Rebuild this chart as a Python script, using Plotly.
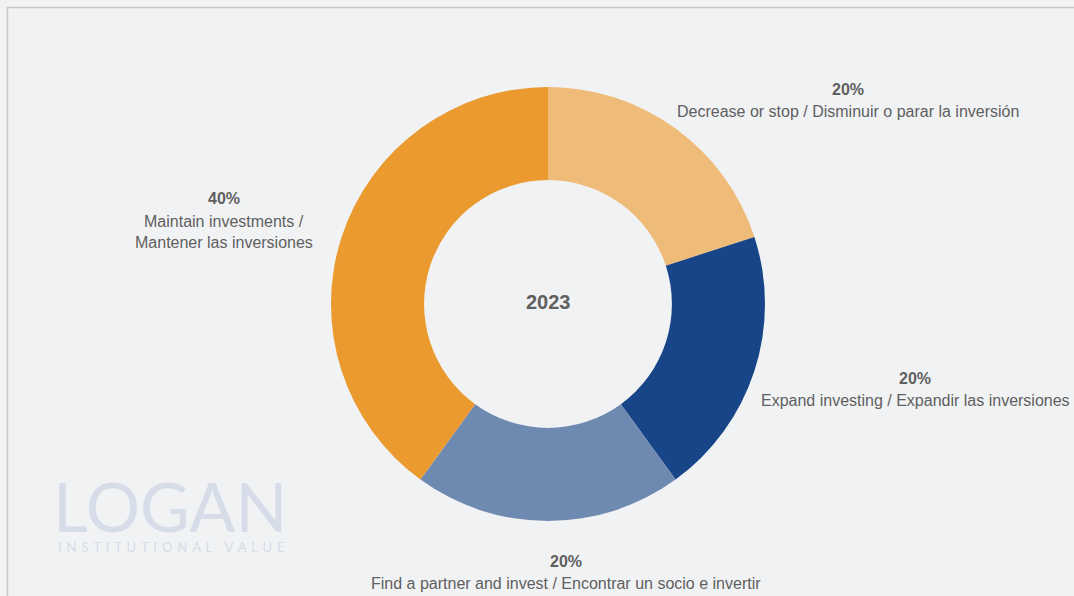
import plotly.graph_objects as go

# Survey answers for 2023
categories = [
    "Decrease or stop / Disminuir o parar la inversión",
    "Expand investing / Expandir las inversiones",
    "Find a partner and invest / Encontrar un socio e invertir",
    "Maintain investments / Mantener las inversiones",
]
shares = [20, 20, 20, 40]
colors = ["#efbb78", "#174587", "#6f8ab1", "#ea9a2f"]

# Label blocks: (x px, y px of percentage line, text lines)
label_pos = [(848, 89), (915, 378), (566, 561), (224, 199)]
label_lines = [
    ["Decrease or stop / Disminuir o parar la inversión"],
    ["Expand investing / Expandir las inversiones"],
    ["Find a partner and invest / Encontrar un socio e invertir"],
    ["Maintain investments /", "Mantener las inversiones"],
]

W, H = 1074, 596
cx, cy, r = 548, 304, 217

fig = go.Figure(
    go.Pie(
        labels=categories,
        values=shares,
        marker=dict(colors=colors, line=dict(width=0)),
        hole=0.571,
        sort=False,
        direction="clockwise",
        rotation=0,
        textinfo="none",
        hoverinfo="label+percent",
        showlegend=False,
        domain=dict(x=[(cx - r) / W, (cx + r) / W], y=[(H - cy - r) / H, (H - cy + r) / H]),
    )
)

font = "Liberation Sans, Arial, sans-serif"
txt_color = "#5f5f5f"
ann = []
for (x, y), v, lines in zip(label_pos, shares, label_lines):
    ann.append(dict(x=x / W, y=1 - y / H, xref="paper", yref="paper", text=f"<b>{v}%</b>",
                    showarrow=False, xanchor="center", yanchor="middle",
                    font=dict(family=font, size=16, color=txt_color)))
    for i, line in enumerate(lines):
        ann.append(dict(x=x / W, y=1 - (y + 22 * (i + 1)) / H, xref="paper", yref="paper",
                        text=line, showarrow=False, xanchor="center", yanchor="middle",
                        font=dict(family=font, size=16, color=txt_color)))

# centre year
ann.append(dict(x=cx / W, y=1 - 302 / H, xref="paper", yref="paper", text="<b>2023</b>",
                showarrow=False, font=dict(family=font, size=20, color="#5f5f5f")))

# watermark logo
ann.append(dict(x=170 / W, y=1 - 505 / H, xref="paper", yref="paper", text="LOGAN",
                showarrow=False, xanchor="center", yanchor="middle", height=58,
                font=dict(family="Lato, sans-serif", size=68, color="#d6dce8", weight=400)))
gap = " \u200a\u200a"
sub = gap.join("INSTITUTIONAL") + "    " + gap.join("VALUE")
ann.append(dict(x=171 / W, y=1 - 547 / H, xref="paper", yref="paper",
                text=sub,
                showarrow=False, xanchor="center", yanchor="middle",
                font=dict(family="Lato, sans-serif", size=13, color="#d6dce8")))

fig.update_layout(
    width=W, height=H,
    margin=dict(l=0, r=0, t=0, b=0),
    paper_bgcolor="#f1f2f4",
    plot_bgcolor="#f1f2f4",
    annotations=ann,
    shapes=[dict(type="rect", xref="paper", yref="paper",
                 x0=7.5 / W, y0=-0.1, x1=1.1, y1=1 - 7.5 / H,
                 line=dict(color="#c6c6c8", width=1.5), fillcolor="rgba(0,0,0,0)", layer="below")],
)

fig.write_html("out.html", config={"displayModeBar": False})
